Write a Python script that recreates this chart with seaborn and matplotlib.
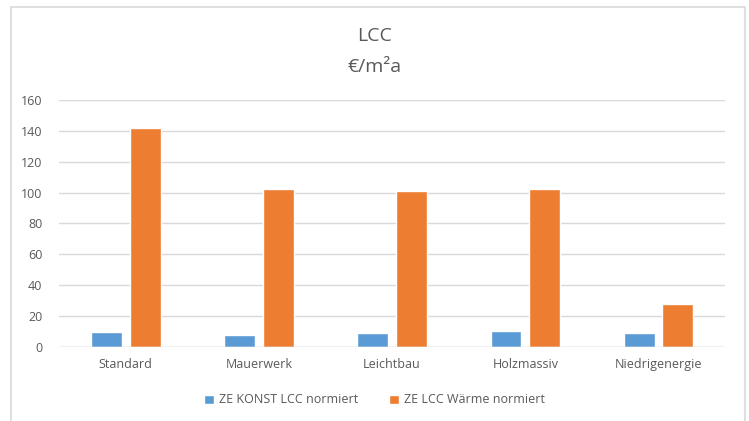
import numpy as np
import pandas as pd
import matplotlib.pyplot as plt
import seaborn as sns
from matplotlib.patches import Rectangle

# Daten ========================================================================
kategorien = ['Standard', 'Mauerwerk', 'Leichtbau', 'Holzmassiv', 'Niedrigenergie']
konst_lcc = [9.4, 7.9, 9.2, 10.3, 8.6]
waerme_lcc = [142, 102, 101, 102, 27.6]
serien = ['ZE KONST LCC normiert', 'ZE LCC Wärme normiert']
farben = ['#5b9bd5', '#ed7d31']

df = pd.DataFrame({
    'Kategorie': kategorien * 2,
    'Wert': konst_lcc + waerme_lcc,
    'Serie': [serien[0]] * 5 + [serien[1]] * 5,
})

# Plot =========================================================================
sns.set_style('white')
plt.rcParams['font.family'] = ['Open Sans', 'DejaVu Sans']
grau = '#595959'

fig = plt.figure(figsize=(7.49, 4.21), dpi=100)
ax = fig.add_axes([0.079, 0.1765, 0.889, 0.586])

sns.barplot(data=df, x='Kategorie', y='Wert', hue='Serie', palette=farben,
            width=0.58, gap=0.2, ax=ax, legend=True, saturation=1)

ax.set_ylim(0, 160)
ax.set_xlim(-0.5, 4.5)
ax.set_yticks(np.arange(0, 161, 20))
ax.yaxis.grid(True, color='#d9d9d9', linewidth=1)
ax.set_axisbelow(True)
for s in ax.spines.values():
    s.set_visible(False)
ax.axhline(0, color='#d9d9d9', linewidth=1)
ax.set_xlabel('')
ax.set_ylabel('')
ax.tick_params(axis='both', length=0, labelsize=9, labelcolor=grau)
ax.tick_params(axis='x', pad=8)
ax.tick_params(axis='y', pad=12)

# Titel
fig.text(0.5, 0.915, 'LCC', ha='center', va='center', fontsize=14, color=grau)
fig.text(0.5, 0.842, '€/m²a', ha='center', va='center', fontsize=14, color=grau)

# Legende
ax.legend(loc='center', bbox_to_anchor=(0.5, 0.05), bbox_transform=fig.transFigure,
          ncol=2, frameon=False, fontsize=9, labelcolor=grau,
          handlelength=0.75, handleheight=0.75, handletextpad=0.4, columnspacing=2.5)

# Rahmen
fig.patches.append(Rectangle((11 / 749, -0.05), 734 / 749, 1 - 7 / 421 + 0.05,
                             transform=fig.transFigure, fill=False,
                             edgecolor='#d9d9d9', linewidth=1.2))

fig.savefig('out.png', dpi=100)
